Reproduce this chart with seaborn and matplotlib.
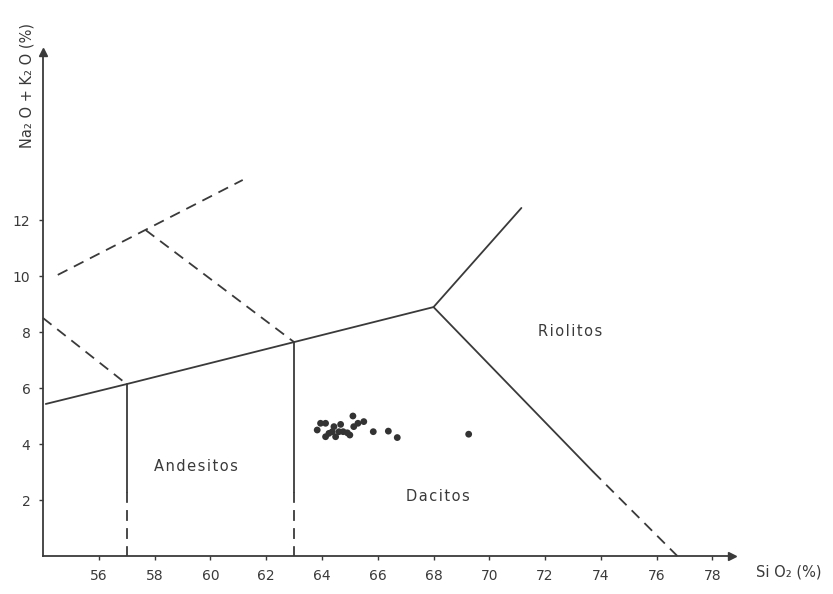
import matplotlib
matplotlib.use("Agg")
import matplotlib.pyplot as plt
import seaborn as sns
import pandas as pd

# ---- data ----
sio2 = [63.83, 63.95, 64.13, 64.13, 64.25, 64.37, 64.43, 64.49, 64.61, 64.67,
        64.76, 64.91, 65.00, 65.11, 65.14, 65.29, 65.50, 65.84, 66.38, 66.70, 69.26]
alk = [4.50, 4.74, 4.74, 4.26, 4.38, 4.44, 4.62, 4.26, 4.44, 4.70,
       4.44, 4.40, 4.32, 5.00, 4.62, 4.74, 4.80, 4.44, 4.46, 4.23, 4.35]

# field boundaries (x = SiO2, y = Na2O+K2O)
solid_main_x = [54.1, 57.0, 63.0, 68.0, 71.15]
solid_main_y = [5.43, 6.14, 7.64, 8.89, 12.43]
solid_diag_x = [68.0, 73.73]
solid_diag_y = [8.89, 3.0]
solid_v57_x = [57.0, 57.0]
solid_v57_y = [6.14, 2.3]
solid_v63_x = [63.0, 63.0]
solid_v63_y = [7.64, 2.3]

dash_diag_x = [73.73, 76.74]
dash_diag_y = [3.0, 0.0]
dash_v57_x = [57.0, 57.0]
dash_v57_y = [2.3, 0.0]
dash_v63_x = [63.0, 63.0]
dash_v63_y = [2.3, 0.0]
dash_a_x = [54.0, 57.0]
dash_a_y = [8.5, 6.14]
dash_b_x = [54.53, 61.16]
dash_b_y = [10.04, 13.43]
dash_c_x = [57.68, 63.0]
dash_c_y = [11.64, 7.64]

field_names = ["Andesitos", "Dacitos", "Riolitos"]
field_x = [59.47, 68.14, 72.9]
field_y = [3.18, 2.14, 8.0]

xticks = [56, 58, 60, 62, 64, 66, 68, 70, 72, 74, 76, 78]
yticks = [2, 4, 6, 8, 10, 12]

# ---- plot ----
sns.set_style("ticks")
plt.rcParams['font.family'] = ['DejaVu Sans']
ink = "#3a3a3a"

fig = plt.figure(figsize=(8.33, 5.94), dpi=100)
ax = fig.add_axes([43/833, 38/594, 689/833, 504/594])

def seg(xs, ys, dashed=False):
    df = pd.DataFrame({"x": xs, "y": ys})
    sns.lineplot(data=df, x="x", y="y", ax=ax, sort=False, estimator=None,
                 color=ink, lw=1.3)
    line = ax.get_lines()[-1]
    if dashed:
        line.set_dashes((6, 4))
    line.set_clip_on(False)

seg(solid_main_x, solid_main_y)
seg(solid_diag_x, solid_diag_y)
seg(solid_v57_x, solid_v57_y)
seg(solid_v63_x, solid_v63_y)
seg(dash_diag_x, dash_diag_y, True)
seg(dash_v57_x, dash_v57_y, True)
seg(dash_v63_x, dash_v63_y, True)
seg(dash_a_x, dash_a_y, True)
seg(dash_b_x, dash_b_y, True)
seg(dash_c_x, dash_c_y, True)

pts = pd.DataFrame({"SiO2": sio2, "alk": alk})
sns.scatterplot(data=pts, x="SiO2", y="alk", ax=ax, color="#333333",
                s=24, edgecolor="none", zorder=5)

def spaced(s):
    return "\u200a".join(s)

for name, fx, fy in zip(field_names, field_x, field_y):
    ax.text(fx, fy, spaced(name), ha="center", va="center", fontsize=10.5, color=ink)

ax.set_xlim(54, 78.7)
ax.set_ylim(0, 18)
ax.set_xticks(xticks)
ax.set_yticks(yticks)
ax.tick_params(axis="both", direction="out", length=3, width=1, colors=ink,
               labelsize=10, labelcolor=ink, pad=6)
ax.set_xlabel("")
ax.set_ylabel("")
sns.despine(ax=ax)
for sp in ["left", "bottom"]:
    ax.spines[sp].set_color(ink)
    ax.spines[sp].set_linewidth(1.3)

# arrow heads
ax.plot(1, 0, marker=">", color=ink, markersize=6, transform=ax.transAxes, clip_on=False)
ax.plot(0, 1, marker="^", color=ink, markersize=6, transform=ax.transAxes, clip_on=False)

fig.text(789/833, 1 - 572/594, "Si O\u2082 (%)", ha="center", va="center",
         fontsize=10.5, color=ink)
fig.text(27/833, 1 - 86/594, "Na\u2082 O + K\u2082 O (%)", ha="center", va="center",
         rotation=90, fontsize=10.5, color=ink)

fig.savefig("out.png", dpi=100, facecolor="white")
